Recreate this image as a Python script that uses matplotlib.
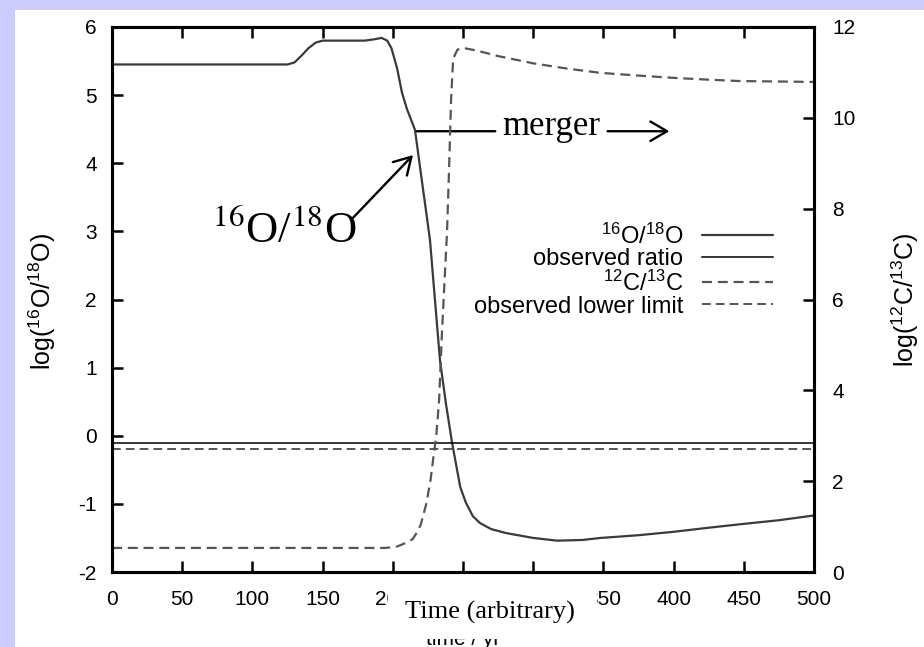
import matplotlib
matplotlib.use('Agg')
import matplotlib.pyplot as plt
from matplotlib.patches import Rectangle

plt.rcParams['font.family'] = ['Liberation Sans', 'DejaVu Sans']
plt.rcParams['mathtext.fontset'] = 'custom'
plt.rcParams['mathtext.rm'] = 'Liberation Sans'
plt.rcParams['mathtext.it'] = 'Liberation Sans:italic'
plt.rcParams['mathtext.bf'] = 'Liberation Sans:bold'
plt.rcParams['axes.unicode_minus'] = False

# ---- data ----
t_o = [0, 125, 130, 135, 140, 145, 150, 180, 187, 192, 196, 199, 203, 206.5, 210,
       215.8, 220, 223, 226.5, 230, 233.6, 238, 242.2, 248, 252, 257, 262, 270,
       281, 300, 317, 335, 348, 375, 400, 425, 447, 475, 500]
o_ratio = [5.45, 5.45, 5.48, 5.58, 5.69, 5.77, 5.80, 5.80, 5.82, 5.84, 5.80, 5.69, 5.40, 5.04, 4.80,
           4.49, 3.85, 3.40, 2.87, 2.00, 1.11, 0.45, -0.10, -0.75, -0.98, -1.18, -1.28, -1.37,
           -1.43, -1.50, -1.54, -1.53, -1.50, -1.46, -1.41, -1.35, -1.30, -1.24, -1.17]

t_c = [0, 195, 203, 210, 214, 217, 220, 224, 227, 229, 231, 233, 235, 237, 238.6, 240,
       241.5, 243, 246, 250, 260, 275, 300, 325, 348, 375, 400, 425, 447, 475, 500]
c_ratio = [0.53, 0.53, 0.56, 0.65, 0.72, 0.86, 1.05, 1.52, 2.05, 2.55, 3.00, 3.80, 5.26, 6.50, 7.46, 8.80,
           10.39, 11.30, 11.50, 11.54, 11.48, 11.36, 11.20, 11.08, 10.99, 10.93, 10.88, 10.84, 10.81, 10.80, 10.79]

obs_o = -0.1
obs_c_lower = 2.7

x_ticks = list(range(0, 501, 50))
yl_ticks = list(range(-2, 7, 1))
yr_ticks = list(range(0, 13, 2))

legend_labels = ['$^{16}$O/$^{18}$O', 'observed ratio', '$^{12}$C/$^{13}$C', 'observed lower limit']

W, H = 924, 647
fig = plt.figure(figsize=(W / 100, H / 100), dpi=100, facecolor='#CCCCFF')
fig.add_artist(Rectangle((15 / W, 0), 1, 1 - 10 / H, transform=fig.transFigure,
                         facecolor='white', edgecolor='none', zorder=-10))

ax = fig.add_axes([112 / W, 75 / H, 702 / W, 545 / H])
ax.set_xlim(0, 500)
ax.set_ylim(-2, 6)

l1, = ax.plot(t_o, o_ratio, color='#3a3a3a', lw=1.6, solid_capstyle='round')
l_obs = ax.axhline(obs_o, color='black', lw=1.1)

ax2 = ax.twinx()
ax2.set_ylim(0, 12)
l2, = ax2.plot(t_c, c_ratio, color='#555555', lw=1.6, ls=(0, (4.5, 2.6)))
l_low = ax2.axhline(obs_c_lower, color='#555555', lw=1.4, ls=(0, (4.5, 2.6)))

ax.set_xticks(x_ticks)
ax.set_yticks(yl_ticks)
ax2.set_yticks(yr_ticks)

ax.tick_params(axis='x', direction='in', length=8, width=1.8, labelsize=15, pad=13, top=True)
ax.tick_params(axis='y', direction='in', length=8, width=1.8, labelsize=15, pad=11, right=False)
ax2.tick_params(axis='y', direction='in', length=8, width=1.8, labelsize=15, pad=13)
for a in (ax, ax2):
    for s in a.spines.values():
        s.set_linewidth(2.2)

leg = ax2.legend([l1, l_obs, l2, l_low], legend_labels, loc='upper right',
                 bbox_to_anchor=(0.9416, 0.64), frameon=False, markerfirst=False,
                 fontsize=17, handlelength=3.0, handletextpad=0.8, labelspacing=0.0,
                 borderpad=0, borderaxespad=0)

# annotations
serif = ['Liberation Serif', 'DejaVu Serif']
ax.text(313, 4.41, 'merger', fontsize=25, family=serif, ha='center', va='baseline')
ax.annotate('', xy=(273, 4.47), xytext=(217, 4.47),
            arrowprops=dict(arrowstyle='-', lw=1.7, color='black', shrinkA=0, shrinkB=0))
ax.annotate('', xy=(397, 4.47), xytext=(353, 4.47),
            arrowprops=dict(arrowstyle='->,head_length=0.6,head_width=0.35', mutation_scale=20,
                            lw=1.7, color='black', shrinkA=0, shrinkB=0))
ax.text(123, 2.83, '$^{16}$O/$^{18}$O', fontsize=32, family=serif, math_fontfamily='stix',
        ha='center', va='baseline')
ax.annotate('', xy=(214.4, 4.12), xytext=(171.7, 3.20),
            arrowprops=dict(arrowstyle='->,head_length=0.6,head_width=0.35', mutation_scale=20,
                            lw=1.7, color='black', shrinkA=0, shrinkB=0))

# axis labels
fig.text(42 / W, (H - 301) / H, r'log($^{16}$O/$^{18}$O)', rotation=90, ha='center', va='center', fontsize=18)
fig.text(905 / W, (H - 300) / H, r'log($^{12}$C/$^{13}$C)', rotation=90, ha='center', va='center', fontsize=18)

# original x label, partly hidden and cut by the edge
fig.text(463 / W, (H - 645) / H, 'time / yr', fontsize=15, ha='center', va='baseline', zorder=4)
fig.add_artist(Rectangle((388 / W, (H - 639) / H), (597 - 388) / W, (639 - 585) / H,
                         transform=fig.transFigure, facecolor='white', edgecolor='none', zorder=5))
fig.text(490 / W, (H - 612) / H, 'Time (arbitrary)', fontsize=19, family=serif,
         ha='center', va='center', zorder=6)

fig.savefig('out.png', dpi=100, facecolor=fig.get_facecolor())
